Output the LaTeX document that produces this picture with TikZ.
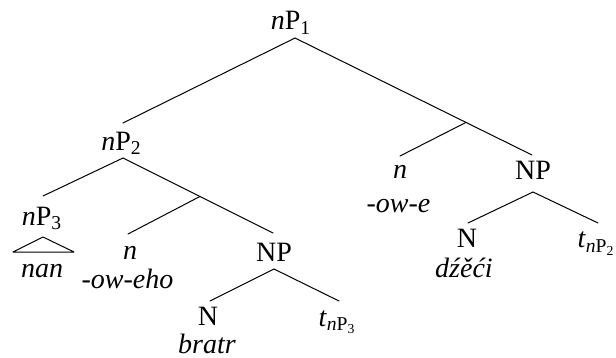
\documentclass[tikz,border=0pt]{standalone}
\usepackage{fontspec}
\setmainfont{Liberation Serif}[ItalicFont={Liberation Serif Italic},BoldFont={Liberation Serif Bold}]
\usetikzlibrary{calc}
\begin{document}
\begin{tikzpicture}[x=0.5pt,y=-0.5pt,
  lab/.style={anchor=base,inner sep=0pt,font=\fontsize{14}{16}\selectfont},
  branch/.style={line width=0.5pt,line cap=round}]
\useasboundingbox (0,0) rectangle (616,358);
% labels
\node[lab] (np1) at (291,30) {\textit{n}P\textsubscript{1}};
\node[lab] (np2) at (121.5,150) {\textit{n}P\textsubscript{2}};
\node[lab] (np3) at (42,225) {\textit{n}P\textsubscript{3}};
\node[lab] (nan) at (42,277) {\textit{nan}};
\node[lab] (nl) at (130,259) {\textit{n}};
\node[lab] (owehod) at (127.5,288) {\textit{-ow-eho}};
\node[lab] (NPl) at (274,261) {NP};
\node[lab] (Nl) at (208,325) {N};
\node[lab] (bratr) at (207,353) {\textit{bratr}};
\node[lab] (tl) at (337.5,326) {\textit{t}\textsubscript{\textit{n}P\textsubscript{3}}};
\node[lab] (nr) at (400,178) {\textit{n}};
\node[lab] (owe) at (398.5,213) {\textit{-ow-e}};
\node[lab] (NPr) at (533,179) {NP};
\node[lab] (Nr) at (467,248) {N};
\node[lab] (dzeci) at (464,277) {\textit{dźěći}};
\node[lab] (tr) at (596.5,248) {\textit{t}\textsubscript{\textit{n}P\textsubscript{2}}};
% branch points
\coordinate (r) at (295,38);
\coordinate (a) at (123,123);
\coordinate (b) at (532,155);
\coordinate (m1) at ($(r)!0.7215!(b)$);
\coordinate (c) at (400,156);
\coordinate (d) at (123,158);
\coordinate (e) at (43,196);
\coordinate (g) at (273,233);
\coordinate (m2) at ($(d)!0.513!(g)$);
\coordinate (f) at (128,234);
\coordinate (h) at (274,269);
\coordinate (i) at (210,301);
\coordinate (j) at (339,301);
\coordinate (k) at (533,192);
\coordinate (l) at (468,223);
\coordinate (m) at (598,223);
\coordinate (ta) at (43,237);
\coordinate (tb) at (13,252);
\coordinate (tc) at (74,252);
% connectors
\draw[branch] (r) -- (a);
\draw[branch] (r) -- (b);
\draw[branch] (m1) -- (c);
\draw[branch] (d) -- (e);
\draw[branch] (d) -- (g);
\draw[branch] (m2) -- (f);
\draw[branch] (h) -- (i);
\draw[branch] (h) -- (j);
\draw[branch] (k) -- (l);
\draw[branch] (k) -- (m);
\draw[branch,line join=round] (ta) -- (tb) -- (tc) -- cycle;
\end{tikzpicture}
\end{document}
